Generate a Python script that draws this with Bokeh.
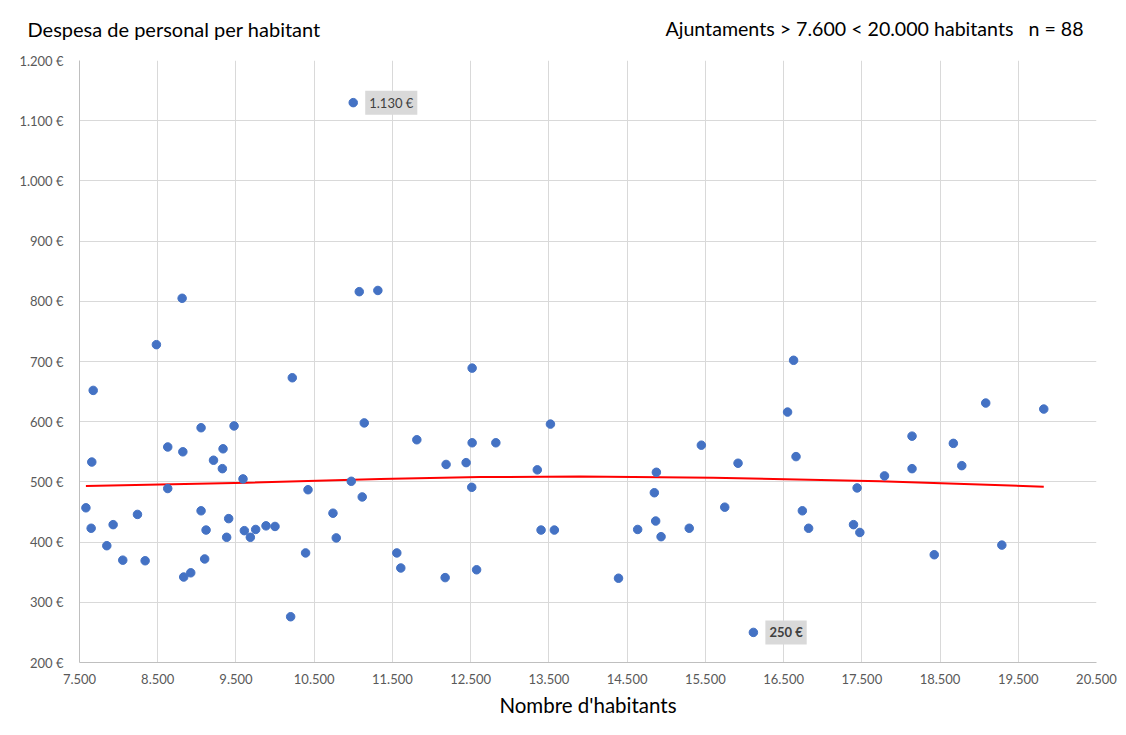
import numpy as np
from bokeh.plotting import figure
from bokeh.models import Range1d, FixedTicker, Label
from bokeh.embed import file_html
from bokeh.resources import INLINE

# Data
habitants = [7582, 7649, 7657, 7675, 7849, 7930, 8053, 8241, 8339, 8483,
             8628, 8628, 8812, 8821, 8832, 8922, 9054, 9054, 9100, 9118,
             9213, 9326, 9335, 9381, 9407, 9476, 9590, 9607, 9684, 9752,
             9884, 9999, 10199, 10220, 10390, 10421, 10740, 10782, 10974, 10999,
             11076, 11114, 11140, 11314, 11556, 11607, 11812, 12174, 12186, 12442,
             12514, 12519, 12519, 12576, 12822, 13352, 13400, 13520, 13570, 14390,
             14635, 14848, 14865, 14874, 14934, 15294, 15449, 15748, 15918, 16114,
             16551, 16628, 16659, 16740, 16820, 17394, 17440, 17475, 17790, 18142,
             18142, 18426, 18670, 18778, 19084, 19290, 19826]
despesa = [457, 423, 533, 652, 394, 429, 370, 446, 369, 728,
           558, 489, 805, 550, 342, 349, 590, 452, 372, 420,
           536, 522, 555, 408, 439, 593, 505, 419, 408, 421,
           427, 426, 276, 673, 382, 487, 448, 407, 501, 1130,
           816, 475, 598, 818, 382, 357, 570, 341, 529, 532,
           491, 689, 565, 354, 565, 520, 420, 596, 420, 340,
           421, 482, 435, 516, 409, 423, 561, 458, 531, 250,
           616, 702, 542, 452, 423, 429, 490, 416, 510, 576,
           522, 379, 564, 527, 631, 395, 621]

# Polynomial trend line
trend_habitants = [7582, 9640, 11344, 12620, 13900, 15600, 17730, 19826]
trend_despesa = [493, 498.5, 505, 508, 509, 507, 501, 492]

x_ticks = list(range(7500, 20501, 1000))
x_tick_labels = ["7.500", "8.500", "9.500", "10.500", "11.500", "12.500", "13.500",
                 "14.500", "15.500", "16.500", "17.500", "18.500", "19.500", "20.500"]
y_ticks = list(range(200, 1201, 100))
y_tick_labels = ["200 €", "300 €", "400 €", "500 €", "600 €", "700 €", "800 €",
                 "900 €", "1.000 €", "1.100 €", "1.200 €"]

title_left = "Despesa de personal per habitant"
title_right = "Ajuntaments > 7.600 < 20.000 habitants\u00a0\u00a0\u00a0n = 88"
x_label = "Nombre d'habitants"
max_label = "1.130 €"
min_label = "250 €"

FONT = "Lato"
GRID = "#d9d9d9"
TICK_COL = "#595959"

p = figure(width=1120, height=730, output_backend="svg", toolbar_location=None,
           x_range=Range1d(7500, 20500), y_range=Range1d(200, 1200),
           frame_width=1017, frame_height=602,
           min_border_left=79, min_border_right=24, min_border_top=60, min_border_bottom=68)
p.outline_line_color = None
p.background_fill_color = "white"
p.border_fill_color = "white"

p.xaxis.ticker = FixedTicker(ticks=x_ticks)
p.yaxis.ticker = FixedTicker(ticks=y_ticks)
p.xaxis.major_label_overrides = {t: l for t, l in zip(x_ticks, x_tick_labels)}
p.yaxis.major_label_overrides = {t: l for t, l in zip(y_ticks, y_tick_labels)}
for ax in (p.xaxis, p.yaxis):
    ax.axis_line_color = "#bfbfbf"
    ax.major_tick_line_color = None
    ax.minor_tick_line_color = None
    ax.major_label_text_font = FONT
    ax.major_label_text_font_size = "13px"
    ax.major_label_text_color = TICK_COL
p.yaxis.major_label_standoff = 10
p.xaxis.major_label_standoff = 5
p.xaxis.axis_label = x_label
p.xaxis.axis_label_text_font = FONT
p.xaxis.axis_label_text_font_size = "20.5px"
p.xaxis.axis_label_text_font_style = "normal"
p.xaxis.axis_label_text_color = "black"
p.xaxis.axis_label_standoff = 6

p.xgrid.grid_line_color = GRID
p.ygrid.grid_line_color = GRID

p.line(trend_habitants, trend_despesa, line_color="#ff0000", line_width=2)

p.scatter(habitants, despesa, size=8.5, fill_color="#4472c4", line_color="#4472c4")

# Annotations for max/min
imax = int(np.argmax(despesa))
imin = int(np.argmin(despesa))
p.add_layout(Label(x=habitants[imax], y=despesa[imax], text=max_label, x_offset=12,
                   text_baseline="middle", text_font=FONT, text_font_size="13px",
                   text_color="#404040", background_fill_color="#d9d9d9", padding=4))
p.add_layout(Label(x=habitants[imin], y=despesa[imin], text=min_label, x_offset=12,
                   text_baseline="middle", text_font=FONT, text_font_size="13px",
                   text_font_style="bold",
                   text_color="#404040", background_fill_color="#d9d9d9", padding=4))

# Titles (in the panels above the frame)
p.add_layout(Label(x=-52, y=32, x_units="screen", y_units="screen", text=title_left,
                   text_align="left", text_baseline="middle", text_font=FONT,
                   text_font_size="20px", text_color="black"), "above")
p.add_layout(Label(x=1004, y=8, x_units="screen", y_units="screen", text=title_right,
                   text_align="right", text_baseline="middle", text_font=FONT,
                   text_font_size="19.6px", text_color="black"), "above")

open("out.html", "w").write(file_html(p, INLINE))
